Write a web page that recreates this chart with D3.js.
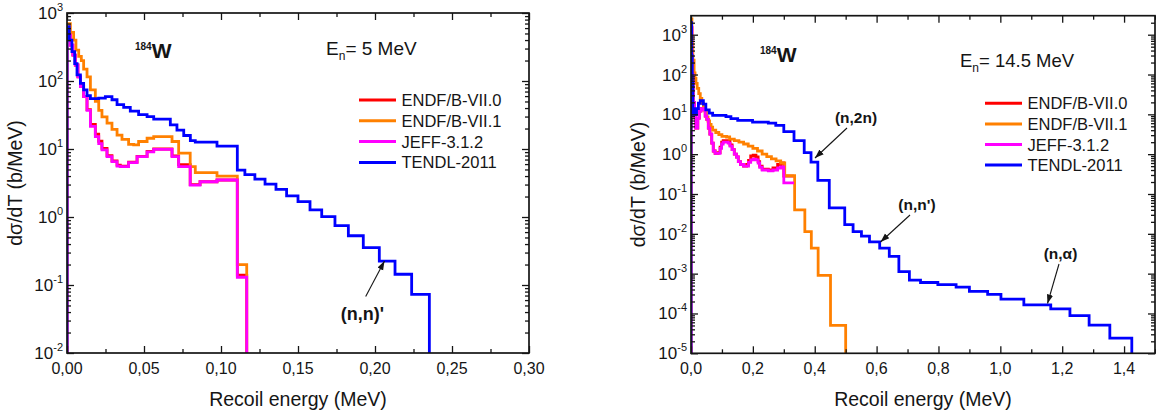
<!DOCTYPE html>
<html><head><meta charset="utf-8">
<script src="https://cdn.jsdelivr.net/npm/d3@7"></script>
<style>
body{margin:0;background:#fff;}
svg{display:block;font-family:"Liberation Sans",Arial,sans-serif;}
</style></head><body>
<svg id="c" width="1156" height="416"></svg>
<script>
// ---------- Data: left panel, En = 5 MeV (bin edges in MeV, values in b/MeV) ----------
const seriesNames = ["ENDF/B-VII.0", "ENDF/B-VII.1", "JEFF-3.1.2", "TENDL-2011"];
const seriesColors = ["#ff0000", "#ff8000", "#ff00ff", "#0000ff"];

const leftEndfB70X = [0, 0.0022, 0.0038, 0.0054, 0.0071, 0.0087, 0.0108, 0.013, 0.0152, 0.0184, 0.0206, 0.0227, 0.026, 0.0292, 0.0325, 0.0346, 0.040, 0.0455, 0.052, 0.0563, 0.0682, 0.0725, 0.080, 0.0864, 0.0974, 0.1106, 0.1167];
const leftEndfB70Y = [500, 337, 240, 172, 115, 83, 59, 38, 23, 16.5, 13, 10.2, 8, 6.7, 5.8, 5.6, 6.4, 7.8, 9.2, 10, 7.9, 5.9, 3.0, 3.3, 3.5, 0.14];
const leftEndfB71X = [0, 0.0022, 0.0043, 0.0058, 0.0076, 0.0093, 0.0108, 0.013, 0.0152, 0.0184, 0.0206, 0.0227, 0.026, 0.0292, 0.0325, 0.0357, 0.040, 0.0433, 0.0465, 0.052, 0.0563, 0.0682, 0.0725, 0.080, 0.0833, 0.0974, 0.1106, 0.1167];
const leftEndfB71Y = [700, 520, 400, 285, 230, 200, 150, 115, 74, 50, 37, 29.6, 24, 19.5, 16, 13.9, 11.7, 11.5, 12.9, 14.4, 15.2, 12.9, 8.7, 5.5, 4.5, 4.0, 0.2];
const leftJeffX = [0, 0.0022, 0.0038, 0.0054, 0.0071, 0.0087, 0.0108, 0.013, 0.0152, 0.0184, 0.0206, 0.0227, 0.026, 0.0292, 0.0325, 0.0346, 0.040, 0.0455, 0.052, 0.0563, 0.0682, 0.0725, 0.080, 0.0864, 0.0974, 0.1106, 0.1167];
const leftJeffY = [475, 337, 240, 172, 115, 83, 59, 37, 21.5, 15.2, 12, 9.7, 7.7, 6.5, 5.6, 5.5, 6.3, 7.7, 9.1, 9.9, 7.7, 5.5, 2.95, 3.3, 3.5, 0.13];
const leftTendlX = [0, 0.0015, 0.0032, 0.005, 0.0065, 0.0087, 0.0108, 0.013, 0.0152, 0.0206, 0.0249, 0.0292, 0.0325, 0.0368, 0.0411, 0.0465, 0.052, 0.0563, 0.0671, 0.0714, 0.0758, 0.0801, 0.0833, 0.0974, 0.1106, 0.1155, 0.122, 0.1286, 0.1357, 0.1426, 0.150, 0.1578, 0.1654, 0.174, 0.1827, 0.1924, 0.2028, 0.213, 0.2238, 0.2353];
const leftTendlY = [630, 400, 270, 180, 123, 92, 74, 61, 55, 56, 59, 53, 45, 41, 36, 32, 30, 27.5, 22.6, 19, 15.8, 13.3, 12.6, 11, 4.9, 4.2, 3.6, 3.05, 2.55, 2.04, 1.68, 1.27, 1.01, 0.745, 0.53, 0.354, 0.225, 0.144, 0.073];

// ---------- Data: right panel, En = 14.5 MeV ----------
const rightEndfB70X = [0, 0.003, 0.007, 0.011, 0.015, 0.022, 0.027, 0.032, 0.040, 0.046, 0.051, 0.056, 0.061, 0.067, 0.072, 0.078, 0.088, 0.094, 0.099, 0.104, 0.120, 0.126, 0.133, 0.140, 0.147, 0.153, 0.160, 0.170, 0.180, 0.186, 0.193, 0.201, 0.210, 0.217, 0.222, 0.230, 0.250, 0.265, 0.280, 0.290, 0.300, 0.333];
const rightEndfB70Y = [1500, 100, 20, 9, 4.5, 8, 12, 14, 13, 9, 7.5, 4.5, 3.2, 1.9, 1.2, 1.05, 1.1, 1.5, 2.0, 2.2, 2.1, 1.7, 1.3, 1.0, 0.85, 0.65, 0.55, 0.5, 0.55, 0.7, 0.9, 0.95, 0.85, 0.65, 0.5, 0.42, 0.4, 0.45, 0.55, 0.6, 0.28];
const rightEndfB71X = [0, 0.003, 0.006, 0.010, 0.013, 0.016, 0.020, 0.025, 0.030, 0.035, 0.040, 0.045, 0.050, 0.055, 0.060, 0.065, 0.070, 0.080, 0.090, 0.100, 0.115, 0.125, 0.140, 0.155, 0.170, 0.185, 0.200, 0.215, 0.230, 0.245, 0.260, 0.275, 0.290, 0.303, 0.335, 0.368, 0.389, 0.411, 0.451, 0.500];
const rightEndfB71Y = [2500, 600, 230, 110, 80, 60, 45, 33, 25, 19, 15, 12, 8.5, 6.8, 5.6, 4.8, 4.0, 3.5, 3.1, 2.8, 2.7, 2.4, 2.2, 2.0, 1.8, 1.6, 1.4, 1.2, 1.0, 0.87, 0.76, 0.68, 0.6, 0.29, 0.04, 0.0114, 0.0044, 0.0009, 0.00005];
const rightJeffX = rightEndfB70X;
const rightJeffY = [1500, 100, 20, 9, 4.5, 8, 12, 14, 13, 9, 7.5, 4.5, 3.2, 1.9, 1.2, 1.05, 1.05, 1.4, 1.8, 2.0, 1.9, 1.6, 1.3, 1.0, 0.85, 0.65, 0.55, 0.5, 0.5, 0.62, 0.72, 0.75, 0.72, 0.6, 0.47, 0.4, 0.38, 0.4, 0.45, 0.48, 0.19];
const rightTendlX = [0, 0.002, 0.004, 0.006, 0.009, 0.018, 0.024, 0.030, 0.040, 0.048, 0.059, 0.070, 0.113, 0.129, 0.151, 0.199, 0.250, 0.274, 0.300, 0.333, 0.366, 0.388, 0.410, 0.447, 0.497, 0.524, 0.551, 0.577, 0.610, 0.641, 0.672, 0.706, 0.742, 0.798, 0.857, 0.900, 0.959, 1.002, 1.076, 1.163, 1.225, 1.287, 1.354, 1.425];
const rightTendlY = [2000, 300, 60, 14, 10, 14, 19, 22, 18, 13, 10.7, 9.4, 8.8, 7.8, 7.1, 6.4, 6.0, 5.3, 3.7, 2.2, 1.1, 0.63, 0.22, 0.045, 0.017, 0.0114, 0.0088, 0.0063, 0.0044, 0.0027, 0.00113, 0.00069, 0.0006, 0.00053, 0.00046, 0.00036, 0.0003, 0.00023, 0.000165, 0.000131, 0.000088, 0.000051, 0.000024];

// ---------- Tick values ----------
const leftXMajor = [0, 0.05, 0.10, 0.15, 0.20, 0.25, 0.30];
const leftXMinor = [0.025, 0.075, 0.125, 0.175, 0.225, 0.275];
const leftXLabels = ["0,00", "0,05", "0,10", "0,15", "0,20", "0,25", "0,30"];
const leftYExp = [-2, -1, 0, 1, 2, 3];
const rightXMajor = [0, 0.2, 0.4, 0.6, 0.8, 1.0, 1.2, 1.4];
const rightXMinor = [0.1, 0.3, 0.5, 0.7, 0.9, 1.1, 1.3, 1.5];
const rightXLabels = ["0,0", "0,2", "0,4", "0,6", "0,8", "1,0", "1,2", "1,4"];
const rightYExp = [-5, -4, -3, -2, -1, 0, 1, 2, 3];

const svg = d3.select("#c");
const defs = svg.append("defs");
const ink = "#151515";
defs.append("marker").attr("id", "arr").attr("viewBox", "0 0 10 10").attr("refX", 10).attr("refY", 5)
  .attr("markerWidth", 9).attr("markerHeight", 9).attr("markerUnits", "userSpaceOnUse").attr("orient", "auto")
  .append("path").attr("d", "M0,1.5 L10,5 L0,8.5 Z").attr("fill", ink);

function drawPanel(p, idx) {
  const x = d3.scaleLinear().domain(p.xDomain).range([p.left, p.right]);
  const y = d3.scaleLog().domain(p.yDomain).range([p.bottom, p.top]);
  const g = svg.append("g");
  const clipId = "clip" + idx;
  defs.append("clipPath").attr("id", clipId).append("rect")
    .attr("x", p.left).attr("y", p.top).attr("width", p.right - p.left).attr("height", p.bottom - p.top);

  const line = d3.line().x(d => x(d[0])).y(d => y(d[1])).curve(d3.curveStepAfter);
  const plot = g.append("g").attr("clip-path", `url(#${clipId})`);
  p.series.forEach((s, i) => {
    const floor = p.yDomain[0] / 3;
    const pts = [[s.x[0], floor]];
    s.y.forEach((v, j) => pts.push([s.x[j], v]));
    const xe = s.x[s.x.length - 1];
    pts.push([xe, s.y[s.y.length - 1]]);
    if (s.drop !== false) pts.push([xe, floor]);
    plot.append("path").attr("d", line(pts)).attr("fill", "none")
      .attr("stroke", seriesColors[i]).attr("stroke-width", 2.8).attr("stroke-linejoin", "miter");
  });

  // axes ticks (inward)
  const decades = p.yExp.map(e => Math.pow(10, e));
  const yMinor = [];
  p.yExp.forEach(e => { for (let k = 2; k <= 9; k++) { const v = k * Math.pow(10, e); if (v < p.yDomain[1]) yMinor.push(v); } });
  const ax = (gen, tr) => g.append("g").attr("transform", tr).attr("color", ink).call(gen)
    .call(s => s.select(".domain").remove()).selectAll("line").attr("stroke-width", 1.3);
  ax(d3.axisBottom(x).tickValues(p.xMajor).tickSize(-7).tickFormat(""), `translate(0,${p.bottom})`);
  ax(d3.axisBottom(x).tickValues(p.xMinor).tickSize(-4).tickFormat(""), `translate(0,${p.bottom})`);
  ax(d3.axisTop(x).tickValues(p.xMajor).tickSize(-7).tickFormat(""), `translate(0,${p.top})`);
  ax(d3.axisTop(x).tickValues(p.xMinor).tickSize(-4).tickFormat(""), `translate(0,${p.top})`);
  ax(d3.axisLeft(y).tickValues(decades).tickSize(-7).tickFormat(""), `translate(${p.left},0)`);
  ax(d3.axisLeft(y).tickValues(yMinor).tickSize(-4).tickFormat(""), `translate(${p.left},0)`);
  ax(d3.axisRight(y).tickValues(decades).tickSize(-7).tickFormat(""), `translate(${p.right},0)`);
  ax(d3.axisRight(y).tickValues(yMinor).tickSize(-4).tickFormat(""), `translate(${p.right},0)`);

  g.append("rect").attr("x", p.left).attr("y", p.top).attr("width", p.right - p.left).attr("height", p.bottom - p.top)
    .attr("fill", "none").attr("stroke", ink).attr("stroke-width", 1.7);

  // tick labels
  p.xMajor.forEach((v, i) => {
    g.append("text").attr("x", x(v)).attr("y", p.bottom + 20.5).attr("text-anchor", "middle")
      .attr("font-size", 16).attr("fill", ink).text(p.xLabels[i]);
  });
  p.yExp.forEach(e => {
    const t = g.append("text").attr("x", p.left - 4).attr("y", y(Math.pow(10, e)) + 6).attr("text-anchor", "end")
      .attr("font-size", 17).attr("fill", ink);
    t.append("tspan").text("10");
    t.append("tspan").attr("dy", -8).attr("font-size", 11).text(String(e));
  });

  // axis titles
  g.append("text").attr("x", (p.left + p.right) / 2).attr("y", p.bottom + 53).attr("text-anchor", "middle")
    .attr("font-size", 19.5).attr("fill", ink).text("Recoil energy (MeV)");
  g.append("text").attr("transform", `translate(${p.left - p.yTitleOff},${(p.top + p.bottom) / 2}) rotate(-90)`)
    .attr("text-anchor", "middle").attr("font-size", 19.5).attr("fill", ink).text("dσ/dT (b/MeV)");

  // nucleus label
  const nl = g.append("text").attr("x", p.nucl[0]).attr("y", p.nucl[1]).attr("font-weight", "bold").attr("fill", ink);
  nl.append("tspan").attr("font-size", 10).attr("dy", -8).text("184");
  nl.append("tspan").attr("font-size", 21).attr("dy", 8).text("W");

  // energy label
  const el = g.append("text").attr("x", p.en[0]).attr("y", p.en[1]).attr("font-size", p.enSize).attr("fill", ink);
  el.append("tspan").text("E");
  el.append("tspan").attr("font-size", 12).attr("dy", 5).text("n");
  el.append("tspan").attr("dy", -5).text(p.enText);

  // legend
  seriesNames.forEach((n, i) => {
    const ly = p.leg[1] + i * p.legStep;
    g.append("line").attr("x1", p.leg[0]).attr("x2", p.leg[0] + 37).attr("y1", ly).attr("y2", ly)
      .attr("stroke", seriesColors[i]).attr("stroke-width", 3);
    g.append("text").attr("x", p.leg[0] + 42.5).attr("y", ly + 6).attr("font-size", 16.5).attr("fill", ink).text(n);
  });

  // annotations
  p.notes.forEach(a => {
    g.append("text").attr("x", a.tx).attr("y", a.ty).attr("text-anchor", "middle").attr("font-weight", "bold")
      .attr("font-size", a.fs).attr("fill", ink).text(a.text);
    g.append("line").attr("x1", a.from[0]).attr("y1", a.from[1]).attr("x2", a.to[0]).attr("y2", a.to[1])
      .attr("stroke", ink).attr("stroke-width", 1.1).attr("marker-end", "url(#arr)");
  });
}

drawPanel({
  left: 67, right: 529, top: 13, bottom: 353,
  xDomain: [0, 0.30], yDomain: [1e-2, 1e3],
  xMajor: leftXMajor, xMinor: leftXMinor, xLabels: leftXLabels, yExp: leftYExp,
  yTitleOff: 45,
  series: [
    {x: leftEndfB70X, y: leftEndfB70Y},
    {x: leftEndfB71X, y: leftEndfB71Y},
    {x: leftJeffX, y: leftJeffY},
    {x: leftTendlX, y: leftTendlY}
  ],
  nucl: [135, 58], en: [326, 55], enSize: 19, enText: "= 5 MeV",
  leg: [359, 100], legStep: 20.8,
  notes: [{text: "(n,n)'", tx: 362.5, ty: 320, fs: 18, from: [365.7, 296.5], to: [384.5, 261]}]
}, 0);

drawPanel({
  left: 691, right: 1155, top: 15.7, bottom: 353.3,
  xDomain: [0, 1.5], yDomain: [1e-5, 3000],
  xMajor: rightXMajor, xMinor: rightXMinor, xLabels: rightXLabels, yExp: rightYExp,
  yTitleOff: 46,
  series: [
    {x: rightEndfB70X, y: rightEndfB70Y, drop: false},
    {x: rightEndfB71X, y: rightEndfB71Y},
    {x: rightJeffX, y: rightJeffY, drop: false},
    {x: rightTendlX, y: rightTendlY}
  ],
  nucl: [760, 61.5], en: [960, 66.7], enSize: 18.5, enText: "= 14.5 MeV",
  leg: [985, 103.3], legStep: 20.6,
  notes: [
    {text: "(n,2n)", tx: 856, ty: 123, fs: 15.5, from: [847, 128], to: [815, 158]},
    {text: "(n,n')", tx: 917, ty: 210, fs: 15.5, from: [910, 215], to: [880.5, 242]},
    {text: "(n,\u03b1)", tx: 1060.5, ty: 259, fs: 15.5, from: [1059, 264], to: [1047.5, 303.5]}
  ]
}, 1);
</script>
</body></html>
